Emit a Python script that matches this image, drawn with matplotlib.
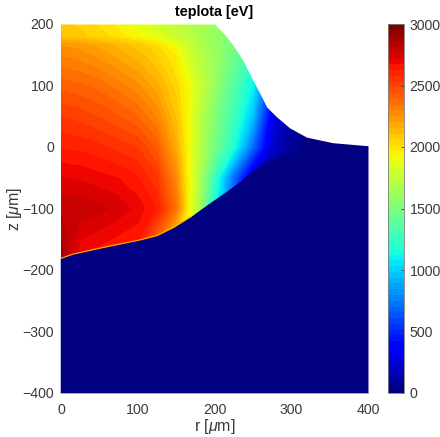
import matplotlib
matplotlib.use("Agg")
import matplotlib.pyplot as plt
import numpy as np

plt.rcParams['font.family'] = ['Liberation Sans', 'DejaVu Sans']
plt.rcParams['mathtext.fontset'] = 'custom'
plt.rcParams['mathtext.rm'] = 'Liberation Sans'
plt.rcParams['mathtext.it'] = 'Liberation Sans:italic'

# temperature table, rows are z, columns are r
r_grid = [0, 25, 50, 75, 100, 125, 150, 165, 180, 200, 225, 250, 275, 300, 325, 350, 400]
z_grid = [-200, -150, -100, -50, 0, 50, 100, 150, 165, 180, 200]
temp = [
    [2950, 2600, 2600, 2550, 2450, 2300, 2000, 1800, 1500, 1000, 500, 100, 0, 0, 0, 0, 0],
    [2860, 2720, 2690, 2660, 2640, 2400, 2050, 1850, 1600, 1050, 600, 150, 0, 0, 0, 0, 0],
    [2800, 2800, 2780, 2750, 2700, 2620, 2350, 1980, 1650, 1150, 650, 200, 30, 0, 0, 0, 0],
    [2720, 2710, 2690, 2670, 2630, 2540, 2280, 1950, 1700, 1250, 700, 200, 50, 10, 0, 0, 0],
    [2620, 2610, 2590, 2560, 2530, 2420, 2170, 1940, 1720, 1480, 1170, 700, 220, 70, 20, 0, 0],
    [2530, 2510, 2480, 2440, 2390, 2290, 2100, 1930, 1740, 1520, 1280, 950, 300, 120, 50, 0, 0],
    [2420, 2400, 2370, 2320, 2260, 2170, 2040, 1930, 1780, 1600, 1350, 1100, 500, 250, 100, 50, 0],
    [2290, 2270, 2230, 2180, 2130, 2060, 1960, 1820, 1720, 1620, 1450, 1250, 900, 500, 300, 150, 50],
    [2250, 2230, 2190, 2140, 2090, 2020, 1900, 1780, 1690, 1600, 1470, 1300, 1000, 650, 400, 200, 70],
    [2100, 2080, 2040, 1990, 1940, 1860, 1780, 1720, 1670, 1590, 1490, 1350, 1150, 800, 500, 300, 100],
    [2080, 2050, 2010, 1950, 1880, 1800, 1740, 1700, 1660, 1620, 1550, 1450, 1300, 1100, 800, 500, 200],
]

# plasma boundary
top_r = [0, 200, 214, 224, 237, 250, 262, 268, 281, 298, 320, 354, 400]
top_z = [200, 200, 182, 166, 141, 109, 80, 65, 49, 31, 16, 7, 2]
bottom_r = [0, 16, 60, 103, 125, 146, 168, 190, 212, 233, 255, 272, 298, 329, 354, 400]
bottom_z = [-181, -174, -162, -151, -144, -131, -114, -94, -75, -56, -33, -21, -10, -5, -2, 2]

fig = plt.figure(figsize=(4.4, 4.37), dpi=100)
ax = fig.add_axes([61 / 440, 1 - 393 / 437, 307 / 440, 369 / 437])
cax = fig.add_axes([388 / 440, 1 - 393 / 437, 16 / 440, 369 / 437])

cmap = plt.get_cmap('jet', 64)
levels = np.linspace(0, 3000, 65)
ax.contourf(r_grid, z_grid, temp, levels=levels, cmap=cmap, vmin=0, vmax=3000, zorder=1,
            antialiased=False)
# vacuum above the plasma and cold solid below it, run a hair past the axes
# so the unsmoothed contour edge does not show
ax.fill_between(np.r_[top_r, 403], np.r_[top_z, 2], 203, color='white', lw=0, zorder=2, clip_on=False)
ax.fill_between(np.r_[-1, bottom_r], -400, np.r_[bottom_z[0], bottom_z], color=cmap(0), lw=0, zorder=2, clip_on=False)
ax.plot(bottom_r[:7], bottom_z[:7], color='#ffb000', lw=0.8, zorder=3)

ax.set_xlim(0, 400)
ax.set_ylim(-400, 200)
ax.set_xticks([0, 100, 200, 300, 400])
ax.set_yticks([-400, -300, -200, -100, 0, 100, 200])
ax.tick_params(labelsize=10.2, colors='#3a3a3a', length=0)
ax.tick_params(axis='x', pad=7)
ax.tick_params(axis='y', pad=5)
for s in ax.spines.values():
    s.set_visible(False)
ax.spines['bottom'].set_visible(True)
ax.spines['bottom'].set_color('#b0b0b0')
ax.spines['bottom'].set_linewidth(0.6)
ax.set_xlabel(r'r [$\mu$m]', fontsize=11.5, color='#3a3a3a', labelpad=0)
ax.set_ylabel(r'z [$\mu$m]', fontsize=11.5, color='#3a3a3a', labelpad=-1)
ax.set_title('teplota [eV]', fontsize=10.4, fontweight='bold', pad=6)

sm = matplotlib.cm.ScalarMappable(norm=matplotlib.colors.Normalize(0, 3000), cmap=cmap)
cb = fig.colorbar(sm, cax=cax)
cb.set_ticks([0, 500, 1000, 1500, 2000, 2500, 3000])
cb.ax.tick_params(labelsize=10.2, colors='#3a3a3a', length=2, width=0.6, direction='in', pad=4)
cb.outline.set_edgecolor('#808080')
cb.outline.set_linewidth(0.6)

fig.savefig('out.png', dpi=100)
